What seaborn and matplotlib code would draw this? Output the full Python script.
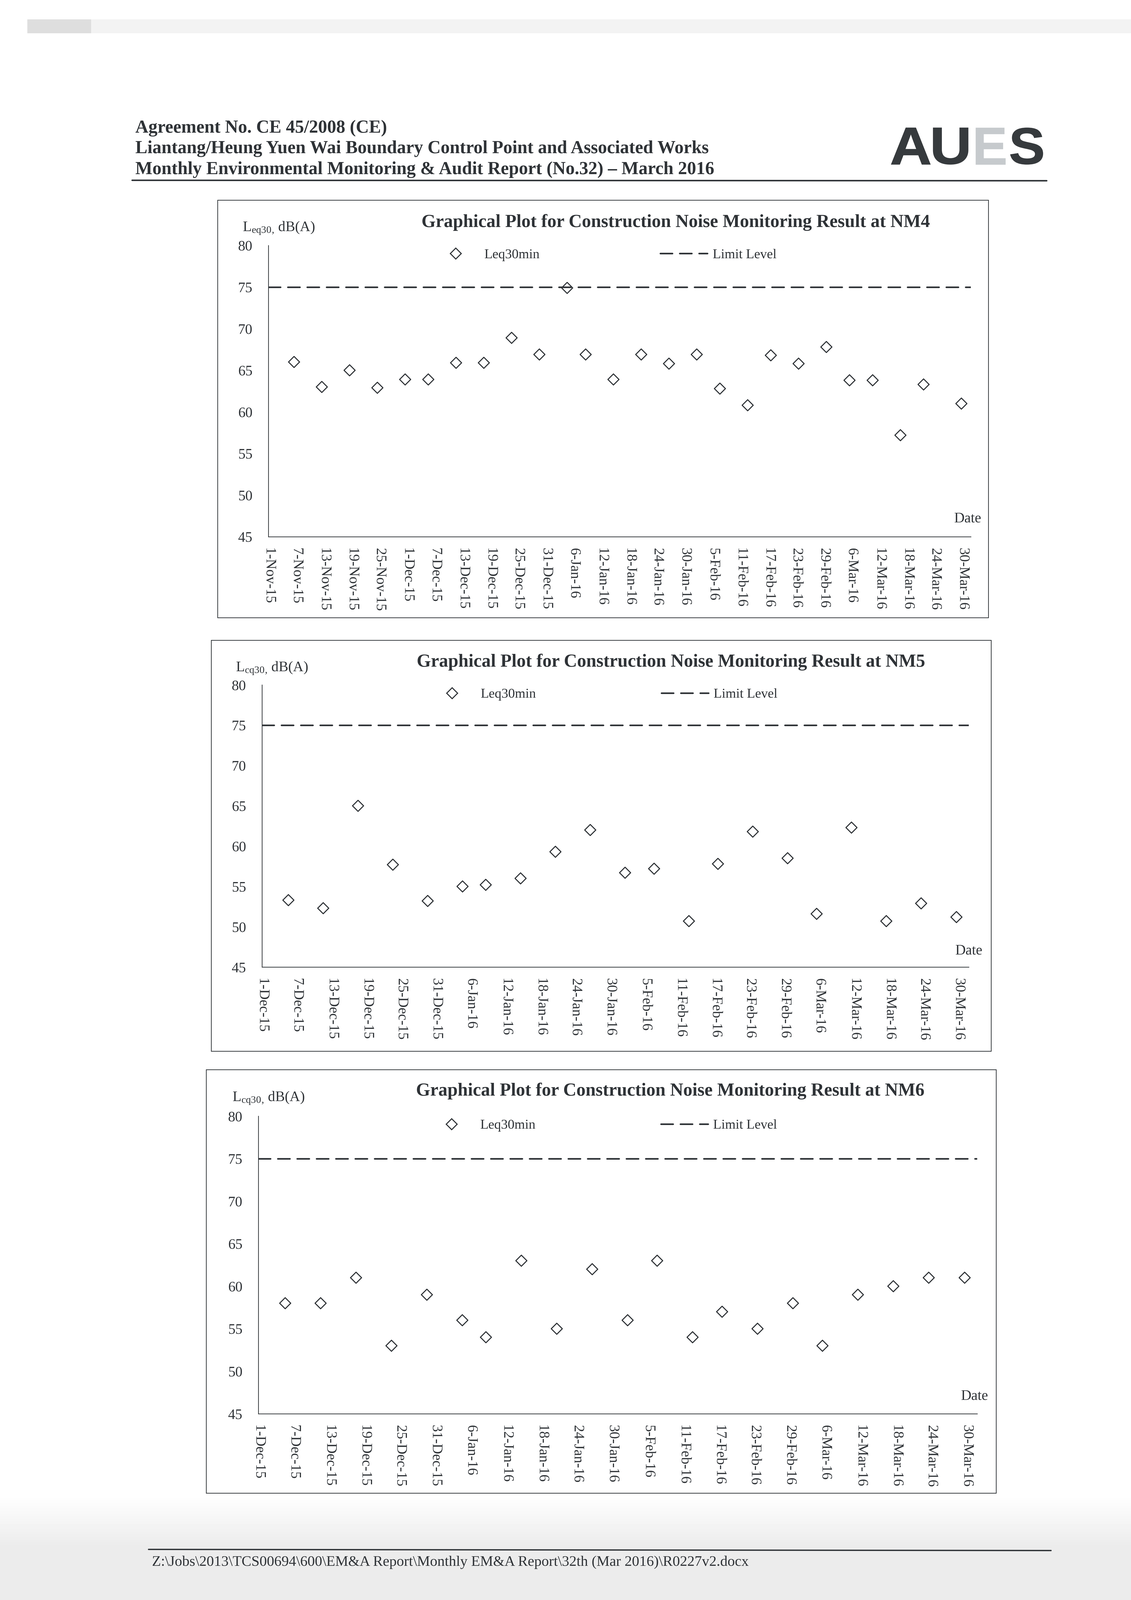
import numpy as np
import pandas as pd
import matplotlib
matplotlib.use("Agg")
import matplotlib.pyplot as plt
import matplotlib.dates as mdates
from matplotlib.lines import Line2D
from matplotlib.patches import Rectangle, PathPatch
from matplotlib.ticker import FixedLocator, FuncFormatter
from matplotlib.textpath import TextPath
from matplotlib.font_manager import FontProperties
from matplotlib.transforms import Affine2D
import seaborn as sns

# ------------------------------------------------------------------ data
limit_level = 75.0

nm4_dates = ["2015-11-06 13:00", "2015-11-12 13:00", "2015-11-18 13:00", "2015-11-24 13:00",
             "2015-11-30 13:00", "2015-12-05 13:00", "2015-12-11 13:00", "2015-12-17 13:00",
             "2015-12-23 13:00", "2015-12-29 13:00", "2016-01-04 13:00", "2016-01-08 13:00",
             "2016-01-14 13:00", "2016-01-20 13:00", "2016-01-26 13:00", "2016-02-01 13:00",
             "2016-02-06 13:00", "2016-02-12 13:00", "2016-02-17 13:00", "2016-02-23 13:00",
             "2016-02-29 13:00", "2016-03-05 13:00", "2016-03-10 13:00", "2016-03-16 13:00",
             "2016-03-21 13:00", "2016-03-29 17:00"]
nm4_leq = [66.0, 63.0, 65.0, 62.9, 63.9, 63.9, 65.9, 65.9, 68.9, 66.9, 74.9, 66.9, 63.9,
           66.9, 65.8, 66.9, 62.8, 60.8, 66.8, 65.8, 67.8, 63.8, 63.8, 57.2, 63.3, 61.0]

nm56_dates = ["2015-12-05 13:00", "2015-12-11 13:00", "2015-12-17 13:00", "2015-12-23 13:00",
              "2015-12-29 13:00", "2016-01-04 13:00", "2016-01-08 13:00", "2016-01-14 13:00",
              "2016-01-20 13:00", "2016-01-26 13:00", "2016-02-01 13:00", "2016-02-06 13:00",
              "2016-02-12 13:00", "2016-02-17 13:00", "2016-02-23 13:00", "2016-02-29 13:00",
              "2016-03-05 13:00", "2016-03-11 13:00", "2016-03-17 13:00", "2016-03-23 13:00",
              "2016-03-29 15:00"]
nm5_leq = [53.3, 52.3, 65.0, 57.7, 53.2, 55.0, 55.2, 56.0, 59.3, 62.0, 56.7, 57.2, 50.7,
           57.8, 61.8, 58.5, 51.6, 62.3, 50.7, 52.9, 51.2]
nm6_leq = [58.0, 58.0, 61.0, 53.0, 59.0, 56.0, 54.0, 63.0, 55.0, 62.0, 56.0, 63.0, 54.0,
           57.0, 55.0, 58.0, 53.0, 59.0, 60.0, 61.0, 61.0]

y_ticks = [45, 50, 55, 60, 65, 70, 75, 80]
series_label = "Leq30min"
limit_label = "Limit Level"
header_lines = ["Agreement No. CE 45/2008 (CE)",
                "Liantang/Heung Yuen Wai Boundary Control Point and Associated Works",
                "Monthly Environmental Monitoring & Audit Report (No.32) \u2013 March 2016"]
logo_letters = ["A", "U", "E", "S"]
footer_text = r"Z:\Jobs\2013\TCS00694\600\EM&A Report\Monthly EM&A Report\32th (Mar 2016)\R0227v2.docx"

charts = [
    dict(station="NM4", dates=nm4_dates, leq=nm4_leq, start="2015-11-01", end="2016-03-31 18:00",
         tick_end="2016-03-30", sub="eq30"),
    dict(station="NM5", dates=nm56_dates, leq=nm5_leq, start="2015-12-01", end="2016-03-31 18:00",
         tick_end="2016-03-30", sub="cq30"),
    dict(station="NM6", dates=nm56_dates, leq=nm6_leq, start="2015-12-01", end="2016-03-31 18:00",
         tick_end="2016-03-30", sub="cq30"),
]

# ---------------------------------------------------------------- layout (pixels)
layout = [
    dict(box=(955, 878, 4338, 2710), ax=(1178, 4261, 1077, 2355), title_c=2966, title_b=996,
         ylab=(1065, 1013), leg=(1896, 1119), colsp=8.95, date=(4307, 2277)),
    dict(box=(927, 2809, 4350, 4612), ax=(1150, 4252, 3005, 4243), title_c=2945, title_b=2925,
         ylab=(1035, 2944), leg=(1880, 3047), colsp=9.3, date=(4312, 4172)),
    dict(box=(905, 4693, 4372, 6551), ax=(1134, 4289, 4897, 6203), title_c=2942, title_b=4807,
         ylab=(1020, 4830), leg=(1878, 4938), colsp=9.3, date=(4337, 6126)),
]

W, H = 4964, 7020
DPI = 600
INK = "#2f3337"

sns.set_style("white")
plt.rcParams.update({
    "font.family": ["Liberation Serif", "DejaVu Serif"],
    "mathtext.fontset": "custom",
    "mathtext.rm": "Liberation Serif",
    "mathtext.it": "Liberation Serif:italic",
    "mathtext.bf": "Liberation Serif:bold",
    "text.color": INK,
    "axes.edgecolor": INK,
    "axes.linewidth": 0.38,
})

fig = plt.figure(figsize=(W / DPI, H / DPI), dpi=DPI)
fig.patch.set_facecolor("white")
renderer = fig.canvas.get_renderer()


def fx(px):
    return px / W


def fy(py):
    return 1 - py / H


def fit_width(t, target):
    w = t.get_window_extent(renderer=renderer).width
    t.set_fontsize(t.get_fontsize() * target / w)
    return t.get_fontsize()


def day_label(v, pos=None):
    d = mdates.num2date(v)
    return f"{d.day}-{d:%b-%y}"


# scanner shading of the page (light grey band at top, grey tone at bottom)
bg = fig.add_axes([0, 0, 1, 1], zorder=-10)
bg.set_axis_off()
cols = W // 10
yy = np.arange(H)[:, None]
xx = (np.arange(cols) * 10)[None, :]
img = np.ones((H, cols))
img = np.where(yy > 6560, 1 - 0.075 * np.clip((yy - 6560) / 220, 0, 1), img)
band = (yy > 84) & (yy < 146) & (xx > 110)
img = np.where(band, 0.95, img)
img = np.where(band & (xx < 400), 0.87, img)
bg.imshow(img, cmap="gray", vmin=0, vmax=1, aspect="auto", extent=(0, 1, 0, 1),
          interpolation="nearest")
bg.set_xlim(0, 1)
bg.set_ylim(0, 1)

for cfg, lay in zip(charts, layout):
    l, r, t, b = lay["ax"]
    ax = fig.add_axes([fx(l), fy(b), (r - l) / W, (b - t) / H])
    ax.set_facecolor("none")

    df = pd.DataFrame({"date": pd.to_datetime(cfg["dates"]), "leq": cfg["leq"]})
    ax.axhline(limit_level, color=INK, lw=0.85, dashes=(7.5, 4.5),
               dash_capstyle="round", zorder=2)
    sns.scatterplot(data=df, x="date", y="leq", ax=ax, marker="D", s=17,
                    color=INK, facecolor="none", edgecolor=INK, linewidth=0.55,
                    legend=False, zorder=3)
    for coll in ax.collections:
        coll.set_facecolor("none")

    ax.set_xlim(pd.Timestamp(cfg["start"]), pd.Timestamp(cfg["end"]))
    ax.set_ylim(45, 80)
    ax.set_yticks(y_ticks)
    ticks = pd.date_range(cfg["start"], cfg["tick_end"], freq="6D")
    ax.xaxis.set_major_locator(FixedLocator(mdates.date2num(ticks)))
    ax.xaxis.set_major_formatter(FuncFormatter(day_label))
    ax.set_xlabel("")
    ax.set_ylabel("")
    sns.despine(ax=ax)
    ax.tick_params(axis="both", direction="in", length=2, width=0.38, color=INK,
                   labelcolor=INK, labelsize=7.6)
    ax.tick_params(axis="x", pad=6, labelrotation=-90)
    ax.tick_params(axis="y", pad=8.4)

    handles = [
        Line2D([], [], ls="none", marker="D", ms=4.1, mfc="none", mec=INK, mew=0.55,
               label=series_label),
        Line2D([], [], color=INK, lw=0.85, dashes=(7.5, 4.5), dash_capstyle="round",
               label=limit_label),
    ]
    lx, ly = lay["leg"]
    ax.legend(handles=handles, ncol=2, frameon=False, loc="center left",
              bbox_to_anchor=(fx(lx), fy(ly)), bbox_transform=fig.transFigure,
              borderpad=0, borderaxespad=0, handlelength=3.5, handletextpad=0.38,
              columnspacing=lay["colsp"], numpoints=1, fontsize=7.1, labelcolor=INK)

    dx, dy = lay["date"]
    fig.text(fx(dx), fy(dy), "Date", ha="right", va="center", fontsize=7.6, color=INK)

    yx, yb = lay["ylab"]
    fig.text(fx(yx), fy(yb), r"L$_{\mathrm{%s}}$$_{,}$ dB(A)" % cfg["sub"], ha="left",
             va="baseline", fontsize=7.6, color=INK)

    tt = fig.text(fx(lay["title_c"]), fy(lay["title_b"]),
                  f"Graphical Plot for Construction Noise Monitoring Result at {cfg['station']}",
                  ha="center", va="baseline", fontsize=9, weight="bold", color=INK)
    fit_width(tt, 2235)

    bl, bt, br, bb = lay["box"]
    fig.add_artist(Rectangle((fx(bl), fy(bb)), (br - bl) / W, (bb - bt) / H,
                             transform=fig.transFigure, fill=False, lw=0.38, ec=INK))

# ---------------------------------------------------------------- header
h_base = [583, 672, 764]
hs = []
for txt, yb in zip(header_lines, h_base):
    hs.append(fig.text(fx(594), fy(yb), txt, ha="left", va="baseline",
                       fontsize=9.5, weight="bold", color=INK))
size = fit_width(hs[1], 2518)
for h in hs:
    h.set_fontsize(size)
fig.add_artist(Line2D([fx(580), fx(4594)], [fy(791), fy(793)], transform=fig.transFigure,
                      color=INK, lw=0.8))

# logo: heavy letters fitted into their boxes (pixels)
logo_boxes = [(3912, 4083), (4096, 4249), (4283, 4412), (4435, 4577)]
logo_cols = ["#363a3d", "#363a3d", "#c6cacd", "#363a3d"]
logo_top, logo_bot = 561, 721
fp = FontProperties(family="Liberation Sans", weight="bold")
for letter, (x0, x1), col in zip(logo_letters, logo_boxes, logo_cols):
    tp = TextPath((0, 0), letter, size=100, prop=fp)
    ext = tp.get_extents()
    sx = (x1 - x0) / ext.width
    sy = (logo_bot - logo_top) / ext.height
    tr = (Affine2D().translate(-ext.x0, -ext.y0).scale(sx, sy)
          .translate(x0, H - logo_bot).scale(1 / W, 1 / H)) + fig.transFigure
    fig.add_artist(PathPatch(tp, transform=tr, fc=col, ec=col, lw=0.3))

# ---------------------------------------------------------------- footer
fig.add_artist(Line2D([fx(652), fx(4613)], [fy(6798), fy(6803)], transform=fig.transFigure,
                      color=INK, lw=0.7))
ft = fig.text(fx(667), fy(6870), footer_text, ha="left", va="baseline", fontsize=8,
              color=INK)
fit_width(ft, 2612)

fig.savefig("out.png", dpi=DPI, facecolor="white")
